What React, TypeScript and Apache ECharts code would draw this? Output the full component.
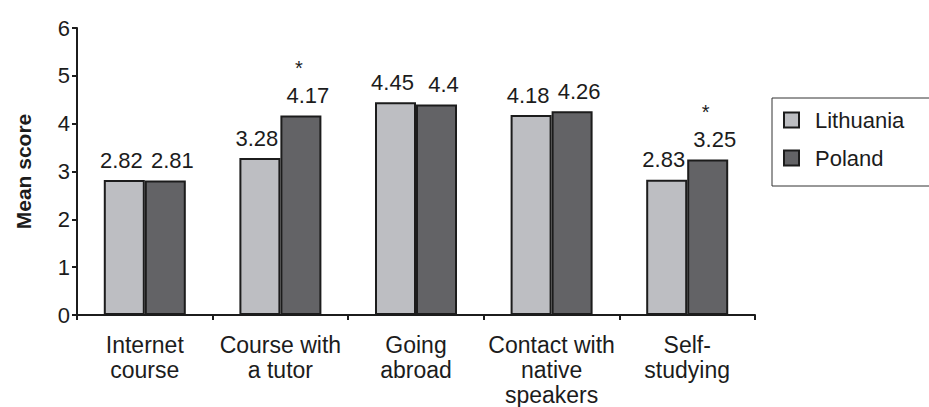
import React, { useEffect, useRef } from "react";
import * as echarts from "echarts";

const categories = [
  "Internet\ncourse",
  "Course with\na tutor",
  "Going\nabroad",
  "Contact with\nnative\nspeakers",
  "Self-\nstudying",
];
const lithuania = [2.82, 3.28, 4.45, 4.18, 2.83];
const poland = [2.81, 4.17, 4.4, 4.26, 3.25];
const polandSignificant = [false, true, false, false, true];
const yTicks = [0, 1, 2, 3, 4, 5, 6];

const FONT = "'Liberation Sans', Arial, sans-serif";
const TEXT = "#1c1c1c";

export default function App() {
  const ref = useRef<HTMLDivElement>(null);
  useEffect(() => {
    if (!ref.current) return;
    const chart = echarts.init(ref.current, null, { renderer: "svg" });
    chart.setOption({
      animation: false,
      backgroundColor: "#ffffff",
      textStyle: { fontFamily: FONT, color: TEXT },
      grid: { left: 77, right: 174, top: 28, bottom: 88 },
      legend: {
        orient: "vertical",
        left: 772,
        top: 98,
        padding: [11, 40, 17, 11],
        borderColor: "#333",
        borderWidth: 1,
        icon: "rect",
        itemWidth: 15,
        itemHeight: 15,
        itemGap: 16,
        textStyle: {
          fontFamily: FONT,
          fontSize: 22,
          color: TEXT,
          lineHeight: 22,
          padding: [0, 0, 0, 11],
        },
        data: ["Lithuania", "Poland"],
      },
      xAxis: {
        type: "category",
        data: categories,
        axisLine: { lineStyle: { color: "#1c1c1c", width: 2 } },
        axisTick: { show: true, length: 5, lineStyle: { color: "#1c1c1c", width: 2 } },
        axisLabel: {
          interval: 0,
          fontFamily: FONT,
          fontSize: 23,
          lineHeight: 25,
          color: TEXT,
          margin: 17,
        },
      },
      yAxis: {
        type: "value",
        min: yTicks[0],
        max: yTicks[yTicks.length - 1],
        interval: 1,
        name: "Mean score",
        nameLocation: "middle",
        nameGap: 43,
        nameTextStyle: { fontFamily: FONT, fontSize: 21, fontWeight: "bold", color: TEXT },
        axisLine: { show: true, lineStyle: { color: "#1c1c1c", width: 2 } },
        axisTick: { show: true, length: 5, lineStyle: { color: "#1c1c1c", width: 2 } },
        splitLine: { show: false },
        axisLabel: { fontFamily: FONT, fontSize: 22, color: TEXT, margin: 7 },
      },
      series: [
        {
          name: "Lithuania",
          type: "bar",
          data: lithuania,
          barWidth: 41,
          barGap: "0%",
          itemStyle: { color: "#bdbec2", borderColor: "#1c1c1c", borderWidth: 2 },
          label: {
            show: true,
            position: "top",
            distance: 9,
            offset: [-3, 0],
            fontFamily: FONT,
            fontSize: 22,
            color: TEXT,
          },
        },
        {
          name: "Poland",
          type: "bar",
          data: poland,
          barWidth: 41,
          barGap: "0%",
          itemStyle: { color: "#636366", borderColor: "#1c1c1c", borderWidth: 2 },
          label: {
            show: true,
            position: "top",
            distance: 9,
            offset: [7, 0],
            fontFamily: FONT,
            fontSize: 22,
            color: TEXT,
            formatter: (p: any) =>
              polandSignificant[p.dataIndex]
                ? `{s|*}\n{v|${p.value}}`
                : `{v|${p.value}}`,
            rich: {
              s: { fontFamily: FONT, fontSize: 20, lineHeight: 34, color: TEXT, padding: [0, 18, 0, 0] },
              v: { fontFamily: FONT, fontSize: 22, lineHeight: 22, color: TEXT },
            },
          },
        },
      ],
    });
    return () => chart.dispose();
  }, []);
  return (
    <div
      ref={ref}
      style={{ position: "fixed", left: 0, top: 0, width: 929, height: 407 }}
    />
  );
}
